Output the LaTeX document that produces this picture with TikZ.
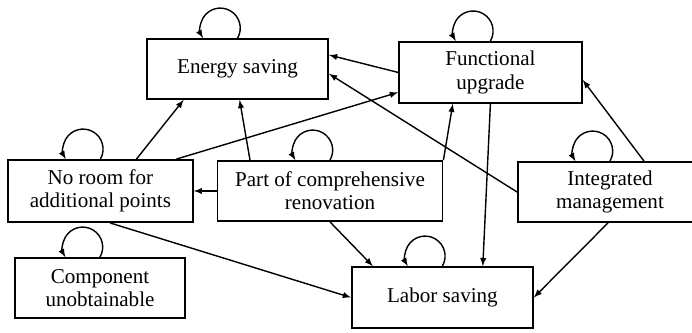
\documentclass[tikz,border=0pt]{standalone}
\usepackage{fontspec}
\setmainfont{Liberation Serif}

\begin{document}
\begin{tikzpicture}[
  box/.style={draw,line width=1.3pt,align=center,inner sep=0pt,
    font=\fontsize{15}{16.5}\selectfont},
  arr/.style={->,>=latex,line width=1pt},
  selfloop/.style={->,>=latex,line width=1pt}]
\useasboundingbox (0,0) rectangle (17.3,8.3);
\node[box,minimum width=4.525cm,minimum height=1.5cm] (es)at(5.94,6.575){Energy saving};
\node[box,minimum width=4.575cm,minimum height=1.525cm] (fu)at(12.26,6.49){Functional\\upgrade};
\node[box,minimum width=4.625cm,minimum height=1.55cm] (nr)at(2.51,3.525){No room for\\additional points};
\node[box,minimum width=5.625cm,minimum height=1.5cm] (pc)at(8.25,3.525){Part of comprehensive\\renovation};
\node[box,minimum width=4.6cm,minimum height=1.5cm] (im)at(15.25,3.5){Integrated\\management};
\node[box,minimum width=4.25cm,minimum height=1.5cm] (cu)at(2.5,1.1){Component\\unobtainable};
\node[box,minimum width=4.525cm,minimum height=1.525cm] (ls)at(11.06,0.8625){Labor saving};
% self loops
\foreach \n in {es,fu,nr,pc,im,cu,ls}
  \draw[selfloop] (\n.north) arc[start angle=-30,end angle=210,radius=0.5cm];
% links
\draw[arr] ([xshift=0.9cm]nr.north) -- ([xshift=-1.35cm]es.south);
\draw[arr] ([xshift=-2cm]pc.north) -- ([xshift=0.05cm]es.south);
\draw[arr] ([xshift=1.9cm]nr.north) -- ([yshift=-0.5cm]fu.west);
\draw[arr] (fu.west) -- ([yshift=0.35cm]es.east);
\draw[arr] (im.west) -- ([yshift=-0.12cm]es.east);
\draw[arr] (pc.north east) -- ([xshift=-0.94cm]fu.south);
\draw[arr] (fu.south) -- ([xshift=1.01cm]ls.north);
\draw[arr] ([xshift=0.85cm]im.north) -- ([yshift=-0.19cm]fu.east);
\draw[arr] ([xshift=-0.05cm]im.south) -- (ls.east);
\draw[arr] (pc.south) -- ([xshift=-1.74cm]ls.north);
\draw[arr] ([xshift=0.24cm]nr.south) -- (ls.west);
\draw[arr] (pc.west) -- (nr.east);
\end{tikzpicture}
\end{document}
